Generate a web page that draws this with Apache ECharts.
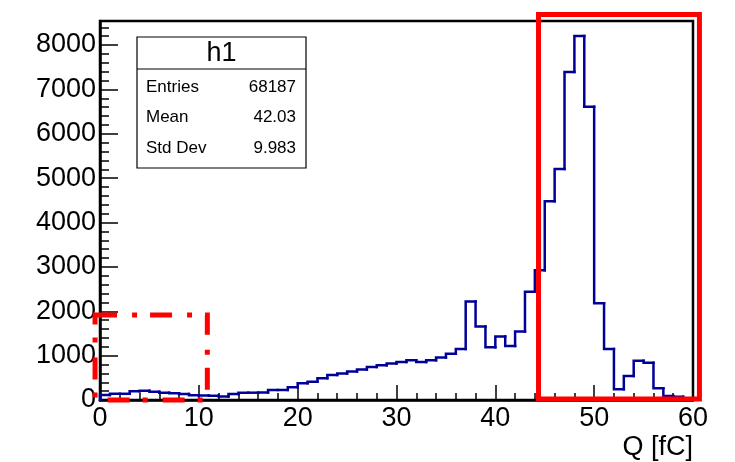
<!DOCTYPE html>
<html>
<head>
<meta charset="utf-8">
<script src="https://cdn.jsdelivr.net/npm/echarts@6/dist/echarts.min.js"></script>
<style>
  html, body { margin: 0; padding: 0; background: #ffffff; }
  #chart { width: 735px; height: 462px; }
</style>
</head>
<body>
<div id="chart"></div>
<script>
// Histogram h1: charge Q in fC, 60 bins of 1 fC from 0 to 60
const binEdges = [
  0, 1, 2, 3, 4, 5, 6, 7, 8, 9, 10, 11, 12, 13, 14, 15, 16, 17, 18, 19,
  20, 21, 22, 23, 24, 25, 26, 27, 28, 29, 30, 31, 32, 33, 34, 35, 36, 37, 38, 39,
  40, 41, 42, 43, 44, 45, 46, 47, 48, 49, 50, 51, 52, 53, 54, 55, 56, 57, 58, 59, 60
];
const binCounts = [
  115, 140, 140, 196, 210, 187, 165, 151, 135, 106,
  100, 95, 80, 135, 165, 165, 170, 226, 226, 287,
  377, 414, 490, 564, 595, 640, 685, 745, 783, 820,
  858, 896, 858, 896, 955, 1045, 1150, 2219, 1655, 1189,
  1429, 1219, 1542, 2440, 2925, 4477, 5207, 7389, 8201, 6610,
  2183, 1151, 241, 542, 887, 842, 264, 90, 75, 0
];
const xTickLabels = [0, 10, 20, 30, 40, 50, 60];
const yTickLabels = [0, 1000, 2000, 3000, 4000, 5000, 6000, 7000, 8000];
const xTitle = 'Q [fC]';

// Statistics box
const statTitle = 'h1';
const statNames = ['Entries', 'Mean', 'Std Dev'];
const statValues = ['68187', '42.03', '9.983'];

// Highlight regions in data units: [xFrom, xTo, yFrom, yTo]
const peakRegion = [44.37, 60.65, 20, 8686];
const lowRegion = [-0.5, 10.86, 0, 1915];

const X_MIN = xTickLabels[0], X_MAX = xTickLabels[xTickLabels.length - 1];
const Y_MIN = 0, Y_MAX = 8541;

// One item per bin: [low edge, high edge, count, count of previous bin]
const binItems = binCounts.map((c, i) => [binEdges[i], binEdges[i + 1], c, i > 0 ? binCounts[i - 1] : 0]);

const FONT = '"Liberation Sans", Arial, Helvetica, sans-serif';
const HIST_COLOR = '#000099';
const chart = echarts.init(document.getElementById('chart'), null, { renderer: 'canvas' });

// Draws the histogram outline: the rise (or fall) at the bin's low edge, then its flat top
function renderBin(params, api) {
  const lo = api.value(0), hi = api.value(1), v = api.value(2), prev = api.value(3);
  const a = api.coord([lo, prev]);
  const b = api.coord([lo, v]);
  const c = api.coord([hi, v]);
  const pts = [a, b, c];
  if (params.dataIndex === binItems.length - 1) pts.push(api.coord([hi, 0]));
  return {
    type: 'polyline',
    shape: { points: pts },
    style: { fill: 'none', stroke: HIST_COLOR, lineWidth: 2.5, lineCap: 'square', lineJoin: 'miter' }
  };
}

chart.setOption({
  animation: false,
  backgroundColor: '#ffffff',
  grid: {
    left: 100, right: 42, top: 21, bottom: 62,
    show: true, borderColor: '#000000', borderWidth: 2.5, backgroundColor: 'transparent'
  },
  xAxis: {
    type: 'value', min: X_MIN, max: X_MAX, interval: 10,
    axisLine: { show: true, onZero: false, lineStyle: { color: '#000', width: 2.5 } },
    axisTick: { show: true, inside: true, length: 15, lineStyle: { color: '#000', width: 1.5 } },
    minorTick: { show: true, splitNumber: 5, length: 7, lineStyle: { color: '#000', width: 1.5 } },
    splitLine: { show: false },
    axisLabel: { color: '#000', fontSize: 27, fontFamily: FONT, margin: 5 }
  },
  yAxis: [
    {
      type: 'value', min: Y_MIN, max: Y_MAX, interval: 1000,
      axisLine: { show: true, onZero: false, lineStyle: { color: '#000', width: 2.5 } },
      axisTick: { show: true, inside: true, length: 18, lineStyle: { color: '#000', width: 1.5 } },
      splitLine: { show: false },
      axisLabel: {
        color: '#000', fontSize: 27, fontFamily: FONT, margin: 4,
        showMaxLabel: false,
        formatter: v => (yTickLabels.indexOf(v) >= 0 ? String(v) : '')
      }
    },
    {
      type: 'value', position: 'left', min: Y_MIN, max: Y_MAX, interval: 200,
      axisLine: { show: false },
      axisTick: { show: true, inside: true, length: 9, lineStyle: { color: '#000', width: 1.5 } },
      splitLine: { show: false },
      axisLabel: { show: false }
    }
  ],
  series: [{
    type: 'custom',
    renderItem: renderBin,
    data: binItems,
    encode: { x: [0, 1], y: [2, 3] },
    yAxisIndex: 0,
    z: 3
  }]
});

function regionRect(r, dash) {
  const p0 = chart.convertToPixel({ gridIndex: 0 }, [r[0], r[3]]);
  const p1 = chart.convertToPixel({ gridIndex: 0 }, [r[1], r[2]]);
  return {
    type: 'rect', z: 100,
    shape: { x: p0[0], y: p0[1], width: p1[0] - p0[0], height: p1[1] - p0[1] },
    style: { fill: 'none', stroke: '#ff0000', lineWidth: 5, lineDash: dash }
  };
}

// Statistics panel
const box = { x: 137, y: 37, w: 169, h: 131, titleH: 32, rowY: [87, 117, 148] };
const statElems = [
  { type: 'rect', shape: { x: box.x, y: box.y, width: box.w, height: box.h },
    style: { fill: '#ffffff', stroke: '#000', lineWidth: 1.2 }, z: 50 },
  { type: 'line', shape: { x1: box.x, y1: box.y + box.titleH, x2: box.x + box.w, y2: box.y + box.titleH },
    style: { stroke: '#000', lineWidth: 1.2 }, z: 51 },
  { type: 'text', x: box.x + box.w / 2, y: box.y + box.titleH / 2 + 1, z: 51,
    style: { text: statTitle, fontSize: 27, fontFamily: FONT, fill: '#000', align: 'center', verticalAlign: 'middle' } }
];
statNames.forEach((n, i) => {
  statElems.push({ type: 'text', x: box.x + 9, y: box.rowY[i], z: 51,
    style: { text: n, fontSize: 17, fontFamily: FONT, fill: '#000', align: 'left', verticalAlign: 'middle' } });
  statElems.push({ type: 'text', x: box.x + box.w - 10, y: box.rowY[i], z: 51,
    style: { text: statValues[i], fontSize: 17, fontFamily: FONT, fill: '#000', align: 'right', verticalAlign: 'middle' } });
});

chart.setOption({
  graphic: [
    {
      type: 'text', right: 42, top: 434,
      style: { text: xTitle, fontSize: 27, fontFamily: FONT, fill: '#000', textAlign: 'right' }
    },
    ...statElems,
    regionRect(peakRegion, null),
    regionRect(lowRegion, [22, 15, 5, 13])
  ]
});
</script>
</body>
</html>
